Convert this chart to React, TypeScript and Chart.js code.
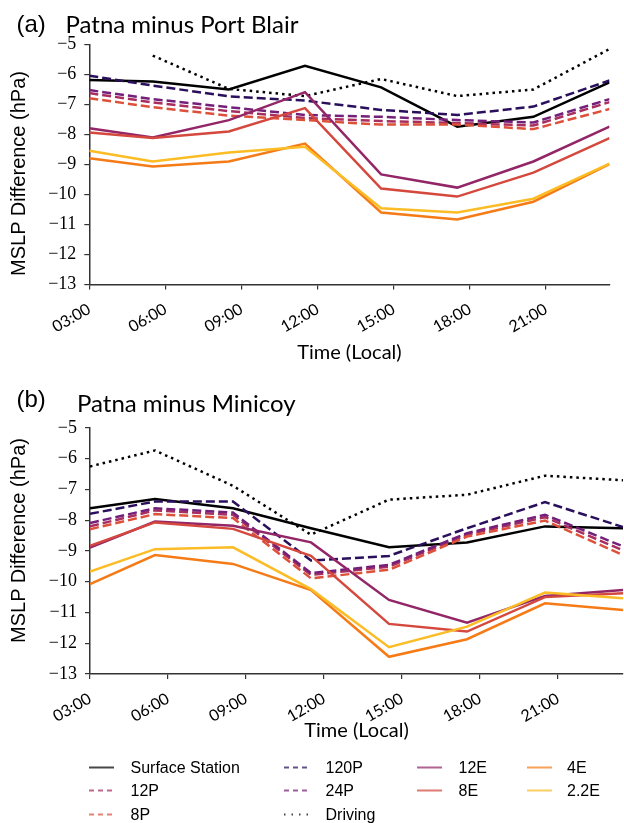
import React, { useEffect, useRef } from "react";
import { Chart, registerables } from "chart.js";

Chart.register(...registerables);

// ---------- data ----------
const hours = [3, 5.5, 8.5, 11.5, 14.5, 17.5, 20.5, 23.5];
const xTickValues = [3, 6, 9, 12, 15, 18, 21];
const xTickLabels = ["03:00", "06:00", "09:00", "12:00", "15:00", "18:00", "21:00"];
const yTickValues = [-5, -6, -7, -8, -9, -10, -11, -12, -13];

const seriesNames = ["Surface Station", "12P", "8P", "120P", "24P", "Driving", "12E", "8E", "4E", "2.2E"];

// Panel (a): Patna minus Port Blair
const aSurface = [-6.18, -6.23, -6.5, -5.71, -6.43, -7.74, -7.41, -6.26];
const a12P = [-6.62, -6.93, -7.22, -7.45, -7.55, -7.62, -7.7, -6.92];
const a8P = [-6.79, -7.09, -7.37, -7.52, -7.67, -7.67, -7.82, -7.15];
const a120P = [-6.04, -6.37, -6.73, -6.87, -7.18, -7.35, -7.07, -6.2];
const a24P = [-6.52, -6.82, -7.09, -7.35, -7.41, -7.52, -7.6, -6.82];
const aDriving = [null, -5.37, -6.48, -6.72, -6.15, -6.72, -6.5, -5.15];
const a12E = [-7.79, -8.1, -7.52, -6.59, -9.33, -9.77, -8.9, -7.74];
const a8E = [-7.93, -8.12, -7.9, -7.12, -9.8, -10.07, -9.27, -8.12];
const a4E = [-8.79, -9.07, -8.9, -8.3, -10.6, -10.83, -10.24, -8.99];
const a22E = [-8.54, -8.9, -8.6, -8.41, -10.46, -10.6, -10.14, -8.97];

// Panel (b): Patna minus Minicoy
const bSurface = [-7.61, -7.31, -7.61, -8.26, -8.88, -8.72, -8.2, -8.26];
const b12P = [-8.2, -7.68, -7.82, -9.78, -9.51, -8.47, -7.9, -8.98];
const b8P = [-8.29, -7.8, -7.93, -9.89, -9.61, -8.53, -8.01, -9.13];
const b120P = [-7.79, -7.39, -7.39, -9.31, -9.16, -8.26, -7.41, -8.22];
const b24P = [-8.09, -7.61, -7.75, -9.72, -9.45, -8.42, -7.82, -8.85];
const bDriving = [-6.25, -5.73, -6.88, -8.47, -7.33, -7.17, -6.55, -6.7];
const b12E = [-8.89, -8.04, -8.18, -8.72, -10.59, -11.33, -10.46, -10.27];
const b8E = [-8.83, -8.07, -8.28, -9.16, -11.37, -11.62, -10.5, -10.37];
const b4E = [-10.08, -9.13, -9.42, -10.27, -12.44, -11.87, -10.7, -10.92];
const b22E = [-9.67, -8.94, -8.88, -10.24, -12.13, -11.46, -10.35, -10.54];

const panelA = [aSurface, a12P, a8P, a120P, a24P, aDriving, a12E, a8E, a4E, a22E];
const panelB = [bSurface, b12P, b8P, b120P, b24P, bDriving, b12E, b8E, b4E, b22E];

// ---------- styles ----------
const colors = ["#000000", "#a82e5f", "#dd513a", "#2a0f5c", "#74207a", "#000000", "#932667", "#d4483d", "#f57b17", "#fbbc25"];
const dashes: number[][] = [[], [9, 4], [9, 4], [9, 4], [9, 4], [2.5, 4], [], [], [], []];
const legendDashes = ["", "5 4", "5 4", "5 4", "5 4", "1.5 6", "", "", "", ""];

const AX = "#333333";

function PanelChart(props: {
  values: (number | null)[][];
  top: number;
  height: number;
  padTop: number;
  padRight: number;
  yAxisW: number;
  xAxisH: number;
  xTitlePad: number;
}) {
  const ref = useRef<HTMLCanvasElement | null>(null);
  useEffect(() => {
    if (!ref.current) return;
    const chart = new Chart(ref.current, {
      type: "line",
      data: {
        datasets: seriesNames.map((name, i) => ({
          label: name,
          data: hours.map((h, j) => ({ x: h, y: props.values[i][j] as any })),
          borderColor: colors[i],
          backgroundColor: colors[i],
          borderDash: dashes[i],
          borderWidth: 2.5,
          borderCapStyle: "butt",
          borderJoinStyle: "miter",
          pointRadius: 0,
          fill: false,
          tension: 0,
          spanGaps: false,
          order: -i,
        })),
      },
      options: {
        animation: false,
        responsive: false,
        maintainAspectRatio: false,
        events: [],
        layout: { padding: { top: props.padTop, right: props.padRight, left: 0, bottom: 0 } },
        plugins: { legend: { display: false }, tooltip: { enabled: false }, title: { display: false } },
        scales: {
          x: {
            type: "linear",
            min: 3,
            max: 23.5,
            afterBuildTicks: (s: any) => {
              s.ticks = xTickValues.map((v) => ({ value: v }));
            },
            afterFit: (s: any) => {
              s.height = props.xAxisH;
            },
            ticks: {
              autoSkip: false,
              minRotation: 30,
              maxRotation: 30,
              padding: 10,
              color: "#000",
              font: { family: "Lato", size: 16 },
              callback: (v: any) => {
                const k = xTickValues.indexOf(Number(v));
                return k >= 0 ? xTickLabels[k] : "";
              },
            },
            grid: { display: true, drawOnChartArea: false, drawTicks: true, tickLength: 5, color: AX, lineWidth: 1.2 },
            border: { display: true, color: AX, width: 1.5 },
            title: {
              display: true,
              text: "Time (Local)",
              color: "#000",
              font: { family: "Lato", size: 20 },
              padding: { top: 0, bottom: props.xTitlePad },
            },
          },
          y: {
            type: "linear",
            min: -13,
            max: -5,
            afterBuildTicks: (s: any) => {
              s.ticks = yTickValues.map((v) => ({ value: v }));
            },
            afterFit: (s: any) => {
              s.width = props.yAxisW;
            },
            ticks: {
              padding: 8,
              color: "#000",
              font: { family: "Liberation Serif", size: 18 },
              callback: (v: any) => "\u2212" + Math.abs(Number(v)),
            },
            grid: { display: true, drawOnChartArea: false, drawTicks: true, tickLength: 5, color: AX, lineWidth: 1.2 },
            border: { display: true, color: AX, width: 1.5 },
            title: { display: false },
          },
        },
      } as any,
    });
    return () => chart.destroy();
  }, []);
  return (
    <canvas
      ref={ref}
      width={624}
      height={props.height}
      style={{ position: "absolute", left: 0, top: props.top, width: 624, height: props.height }}
    />
  );
}

const legendCols = [
  { lineX: 89, textX: 130.5, items: [0, 1, 2] },
  { lineX: 284, textX: 325.5, items: [3, 4, 5] },
  { lineX: 417, textX: 458.5, items: [6, 7] },
  { lineX: 527, textX: 567, items: [8, 9] },
];
const legendLineY = [767.5, 790.5, 814.5];
const legendBaseY = [773.3, 796.3, 820.3];

export default function App() {
  return (
    <div
      style={{
        position: "absolute",
        left: 0,
        top: 0,
        width: 624,
        height: 823,
        overflow: "hidden",
        background: "#fff",
      }}
    >
      <PanelChart values={panelA} top={0} height={370} padTop={44.5} padRight={14.5} yAxisW={89.3} xAxisH={85.5} xTitlePad={5.5} />
      <PanelChart values={panelB} top={370} height={385} padTop={58} padRight={1} yAxisW={90} xAxisH={81} xTitlePad={12} />

      <svg width={624} height={823} style={{ position: "absolute", left: 0, top: 0 }}>
        <text x={16.5} y={31.5} fontFamily="Liberation Sans" fontSize={24} fill="#000">(a)</text>
        <text x={65.5} y={33} fontFamily="Lato" fontSize={24} fill="#000">Patna minus Port Blair</text>
        <text x={16.5} y={406.5} fontFamily="Liberation Sans" fontSize={24} fill="#000">(b)</text>
        <text x={77} y={411.5} fontFamily="Lato" fontSize={24} fill="#000">Patna minus Minicoy</text>

        <text
          transform="translate(25,173.5) rotate(-90)"
          textAnchor="middle"
          fontFamily="Liberation Sans"
          fontSize={20}
          fill="#000"
        >
          MSLP Difference (hPa)
        </text>
        <text
          transform="translate(25,540.5) rotate(-90)"
          textAnchor="middle"
          fontFamily="Liberation Sans"
          fontSize={20}
          fill="#000"
        >
          MSLP Difference (hPa)
        </text>

        {legendCols.map((col, ci) =>
          col.items.map((si, ri) => (
            <g key={ci + "-" + ri}>
              <line
                x1={col.lineX}
                y1={legendLineY[ri]}
                x2={col.lineX + 25}
                y2={legendLineY[ri]}
                stroke={colors[si]}
                strokeOpacity={0.72}
                strokeWidth={2}
                strokeDasharray={legendDashes[si] || undefined}
              />
              <text x={col.textX} y={legendBaseY[ri]} fontFamily="Liberation Sans" fontSize={16} fill="#000">
                {seriesNames[si]}
              </text>
            </g>
          ))
        )}
      </svg>
    </div>
  );
}
